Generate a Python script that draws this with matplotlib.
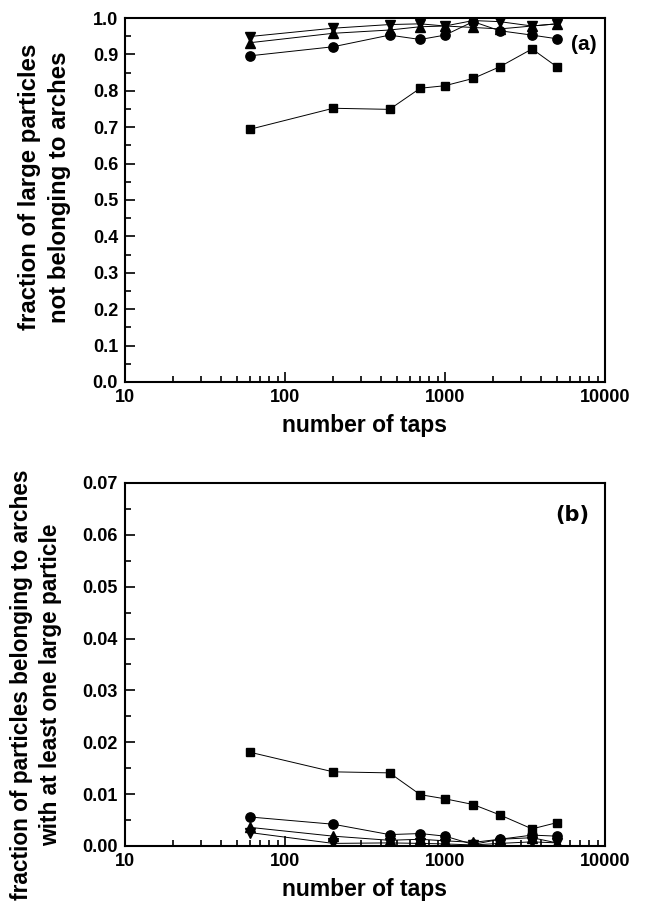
import matplotlib
matplotlib.use("Agg")
import matplotlib.pyplot as plt
from matplotlib.ticker import MultipleLocator, FixedLocator, NullFormatter

plt.rcParams['font.family'] = ['Liberation Sans', 'DejaVu Sans']
plt.rcParams['font.weight'] = 'bold'

taps = [60, 200, 450, 700, 1000, 1500, 2200, 3500, 5000]

# panel (a): fraction of large particles not belonging to arches
a_square = [0.694, 0.752, 0.749, 0.807, 0.814, 0.834, 0.866, 0.915, 0.866]
a_circle = [0.896, 0.921, 0.953, 0.941, 0.953, 0.990, 0.965, 0.953, 0.943]
a_up = [0.932, 0.958, 0.967, 0.976, 0.978, 0.974, 0.970, 0.978, 0.984]
a_down = [0.949, 0.972, 0.982, 0.984, 0.978, 0.993, 0.990, 0.978, 0.984]

# panel (b): fraction of particles in arches with at least one large particle
b_square = [0.0181, 0.0143, 0.0141, 0.0099, 0.0091, 0.0080, 0.0060, 0.0033, 0.0045]
b_circle = [0.0056, 0.0042, 0.0022, 0.0024, 0.0019, 0.0003, 0.0013, 0.0021, 0.0019]
b_up = [0.0036, 0.0019, 0.0011, 0.0013, 0.0010, 0.0007, 0.0013, 0.0016, 0.0006]
b_down = [0.0026, 0.0005, 0.0006, 0.0005, 0.0004, 0.0002, 0.0005, 0.0008, 0.0006]

fig = plt.figure(figsize=(6.49, 9.14), dpi=100)
ax1 = fig.add_axes([0.1926, 0.5821, 0.7396, 0.3982])
ax2 = fig.add_axes([0.1926, 0.0744, 0.7396, 0.3972])

line_kw = dict(color='black', lw=0.7)


def draw(ax, sq, ci, up, dn):
    ax.plot(taps, sq, marker='s', ms=6, mfc='black', mec='black', **line_kw)
    ax.plot(taps, ci, marker='o', ms=6.7, mfc='black', mec='black', **line_kw)
    ax.plot(taps, dn, marker='v', ms=7.2, mfc='black', mec='black', **line_kw)
    ax.plot(taps, up, marker='^', ms=7.2, mfc='black', mec='black', **line_kw)
    ax.set_xscale('log')
    ax.set_xlim(10, 10000)
    ax.xaxis.set_major_locator(FixedLocator([10, 100, 1000, 10000]))
    ax.set_xticklabels(['10', '100', '1000', '10000'])
    minors = [m * d for d in (10, 100, 1000) for m in range(2, 10)]
    ax.xaxis.set_minor_locator(FixedLocator(minors))
    ax.xaxis.set_minor_formatter(NullFormatter())
    ax.tick_params(which='both', direction='in', top=False, right=False,
                   labelsize=13, width=1.2, pad=5)
    ax.tick_params(which='major', length=7)
    ax.tick_params(which='minor', length=4)
    for s in ax.spines.values():
        s.set_linewidth(1.5)
    ax.set_xlabel('number of taps', fontsize=16.5, fontweight='bold', labelpad=6)


draw(ax1, a_square, a_circle, a_up, a_down)
ax1.set_ylim(0, 1.0)
ax1.yaxis.set_major_locator(MultipleLocator(0.1))
ax1.yaxis.set_minor_locator(MultipleLocator(0.05))
ax1.yaxis.set_major_formatter(matplotlib.ticker.FormatStrFormatter('%.1f'))
ax1.set_ylabel('fraction of large particles\nnot belonging to arches',
               fontsize=17.3, fontweight='bold', linespacing=1.4)
ax1.yaxis.set_label_coords(-0.1125, 0.536)
ax1.text(0.955, 0.926, '(a)', transform=ax1.transAxes, fontsize=15,
         fontweight='bold', ha='center', va='center')

draw(ax2, b_square, b_circle, b_up, b_down)
ax2.set_ylim(0, 0.07)
ax2.yaxis.set_major_locator(MultipleLocator(0.01))
ax2.yaxis.set_minor_locator(MultipleLocator(0.005))
ax2.yaxis.set_major_formatter(matplotlib.ticker.FormatStrFormatter('%.2f'))
ax2.set_ylabel('fraction of particles belonging to arches\nwith at least one large particle',
               fontsize=16.3, fontweight='bold', linespacing=1.33)
ax2.yaxis.set_label_coords(-0.131, 0.444)
ax2.text(0.931, 0.912, '(b)', transform=ax2.transAxes, fontsize=15,
         fontweight='bold', ha='center', va='center', family='DejaVu Sans')

fig.savefig('out.png', dpi=100)
